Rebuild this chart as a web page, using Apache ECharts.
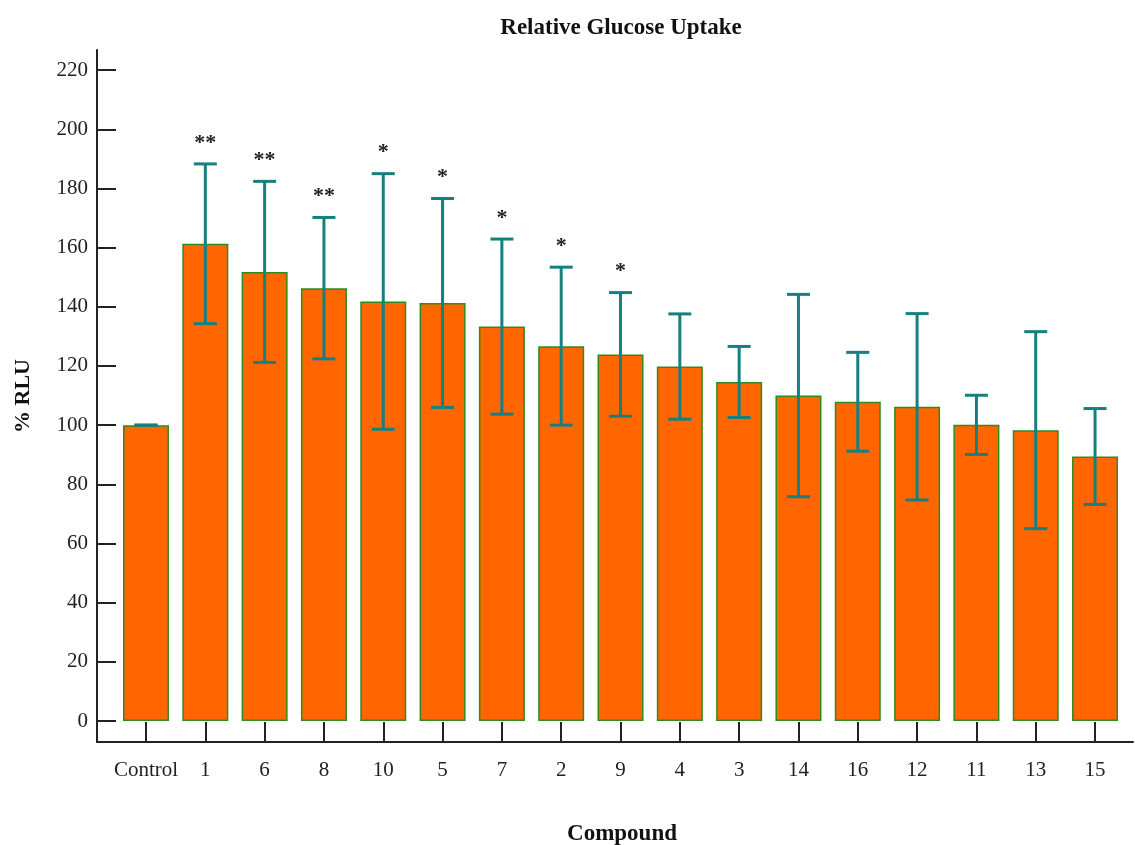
<!DOCTYPE html>
<html>
<head>
<meta charset="utf-8">
<script src="https://cdn.jsdelivr.net/npm/echarts@6/dist/echarts.min.js"></script>
<style>
  html, body { margin: 0; padding: 0; background: #fff; }
  #main { width: 1135px; height: 845px; }
</style>
</head>
<body>
<div id="main"></div>
<script>
const categories = ['Control','1','6','8','10','5','7','2','9','4','3','14','16','12','11','13','15'];
const means = [100, 161.3, 151.8, 146.3, 141.8, 141.3, 133.3, 126.7, 123.9, 119.8, 114.6, 110, 107.9, 106.2, 100.1, 98.3, 89.4];
const sds   = [0, 27, 30.6, 23.9, 43.2, 35.3, 29.6, 26.7, 20.9, 17.8, 12, 34.2, 16.7, 31.5, 10, 33.3, 16.2];
const stars = ['', '**', '**', '**', '*', '*', '*', '*', '*', '', '', '', '', '', '', '', ''];
const yTicks = [0, 20, 40, 60, 80, 100, 120, 140, 160, 180, 200, 220];
const xTicks = categories.map((c, i) => i);

const serif = '"Liberation Serif", "DejaVu Serif", serif';
const axisColor = '#222';

const chart = echarts.init(document.getElementById('main'), null, { renderer: 'canvas' });

const option = {
  animation: false,
  backgroundColor: '#fff',
  grid: { left: 97, right: 2, top: 50, bottom: 103, containLabel: false },
  xAxis: {
    type: 'value',
    min: -0.826,
    max: 16.64,
    splitLine: { show: false },
    axisLine: { show: true, onZero: false, lineStyle: { color: axisColor, width: 2 } },
    axisTick: { show: true, inside: true, length: 20, customValues: xTicks, lineStyle: { color: axisColor, width: 2 } },
    axisLabel: {
      customValues: xTicks,
      margin: 18,
      color: '#222',
      fontFamily: serif,
      fontSize: 21,
      formatter: v => categories[Math.round(v)]
    }
  },
  yAxis: {
    type: 'value',
    min: -7.1,
    max: 226.8,
    splitLine: { show: false },
    axisLine: { show: true, onZero: false, lineStyle: { color: axisColor, width: 2 } },
    axisTick: { show: true, inside: true, length: 19, customValues: yTicks, lineStyle: { color: axisColor, width: 2 } },
    axisLabel: {
      customValues: yTicks,
      margin: 9,
      color: '#222',
      fontFamily: serif,
      fontSize: 21
    }
  },
  graphic: [
    { type: 'text', x: 621, y: 28, style: { text: 'Relative Glucose Uptake', font: 'bold 23px ' + serif, fill: '#111', textAlign: 'center', textVerticalAlign: 'middle' } },
    { type: 'text', x: 622, y: 834, style: { text: 'Compound', font: 'bold 23px ' + serif, fill: '#111', textAlign: 'center', textVerticalAlign: 'middle' } },
    { type: 'text', x: 23, y: 396, rotation: Math.PI / 2, style: { text: '% RLU', font: 'bold 22px ' + serif, fill: '#111', textAlign: 'center', textVerticalAlign: 'middle' } }
  ],
  series: [
    {
      type: 'bar',
      barWidth: 46,
      data: means.map((m, i) => [i, m]),
      itemStyle: { color: '#FF6600', borderColor: '#2E8B1E', borderWidth: 1.5 }
    },
    {
      type: 'custom',
      data: means.map((m, i) => [i, m - sds[i], m + sds[i]]),
      z: 10,
      renderItem: function (params, api) {
        const i = api.value(0);
        const lo = api.coord([i, api.value(1)]);
        const hi = api.coord([i, api.value(2)]);
        const hw = 11.5;
        const st = { stroke: '#15807F', lineWidth: 3, fill: null };
        const children = [
          { type: 'line', shape: { x1: hi[0], y1: hi[1], x2: lo[0], y2: lo[1] }, style: st },
          { type: 'line', shape: { x1: hi[0] - hw, y1: hi[1], x2: hi[0] + hw, y2: hi[1] }, style: st },
          { type: 'line', shape: { x1: lo[0] - hw, y1: lo[1], x2: lo[0] + hw, y2: lo[1] }, style: st }
        ];
        const s = stars[params.dataIndex];
        if (s) {
          children.push({
            type: 'text',
            style: {
              text: s, x: hi[0], y: hi[1] - 21,
              font: 'bold 22px ' + serif, fill: '#222',
              textAlign: 'center', textVerticalAlign: 'middle'
            }
          });
        }
        return { type: 'group', children: children };
      }
    }
  ]
};
chart.setOption(option);
</script>
</body>
</html>
